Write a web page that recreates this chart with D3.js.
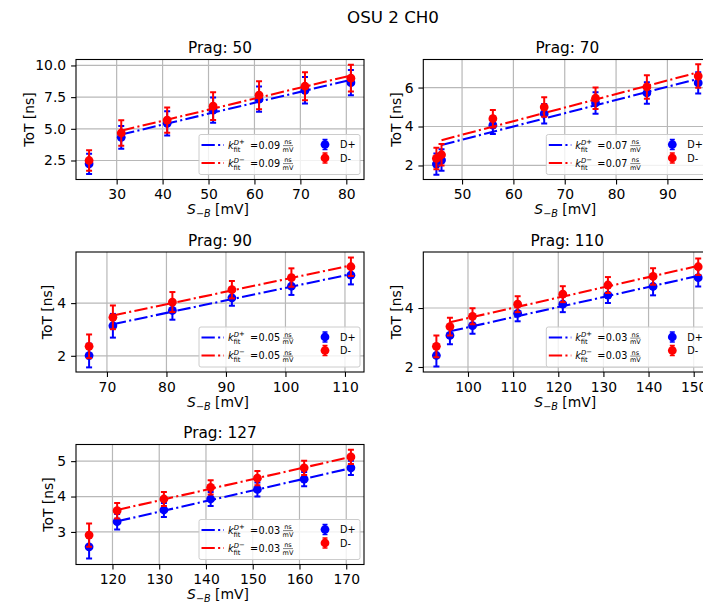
<!DOCTYPE html>
<html><head><meta charset="utf-8">
<script src="https://cdn.jsdelivr.net/npm/d3@7"></script>
<style>body{margin:0;background:#fff} svg{display:block} text{font-family:"DejaVu Sans",sans-serif}</style>
</head><body><svg id="c" width="703" height="605"></svg>
<script>
// ---------- data ----------
const suptitle = "OSU 2 CH0";
const titles = ["Prag: 50", "Prag: 70", "Prag: 90", "Prag: 110", "Prag: 127"];
const sbX = [
  [24, 31, 41, 51, 61, 71, 81],
  [45, 46, 56, 66, 76, 86, 96],
  [67, 71, 81, 91, 101, 111],
  [93, 96, 101, 111, 121, 131, 141, 151],
  [115, 121, 131, 141, 151, 161, 171]
];
const totDp = [
  [2.24, 4.33, 5.43, 6.47, 7.34, 8.04, 8.64],
  [2.07, 2.28, 4.07, 4.66, 5.21, 5.72, 6.24],
  [2.01, 3.14, 3.72, 4.20, 4.64, 5.06],
  [2.39, 3.07, 3.40, 3.82, 4.13, 4.44, 4.73, 5.03],
  [2.58, 3.29, 3.62, 3.93, 4.20, 4.49, 4.81]
];
const totDm = [
  [2.50, 4.67, 5.69, 6.79, 7.65, 8.36, 9.00],
  [2.36, 2.55, 4.40, 5.00, 5.45, 6.03, 6.59],
  [2.36, 3.46, 4.04, 4.51, 4.97, 5.38],
  [2.70, 3.37, 3.72, 4.13, 4.47, 4.78, 5.07, 5.40],
  [2.91, 3.60, 3.93, 4.26, 4.52, 4.81, 5.12]
];
const errDp = [
  [0.80, 0.90, 0.95, 1.00, 1.00, 1.05, 1.00],
  [0.55, 0.55, 0.45, 0.50, 0.55, 0.55, 0.55],
  [0.45, 0.45, 0.35, 0.30, 0.33, 0.35],
  [0.37, 0.30, 0.27, 0.27, 0.27, 0.27, 0.30, 0.30],
  [0.33, 0.22, 0.20, 0.20, 0.20, 0.20, 0.20]
];
const errDm = [
  [0.80, 1.00, 1.00, 1.10, 1.10, 1.10, 1.05],
  [0.55, 0.55, 0.45, 0.50, 0.55, 0.60, 0.60],
  [0.45, 0.45, 0.38, 0.33, 0.35, 0.35],
  [0.37, 0.30, 0.27, 0.27, 0.27, 0.27, 0.28, 0.28],
  [0.33, 0.22, 0.20, 0.20, 0.20, 0.20, 0.20]
];
const fitX  = [[31, 81], [46, 96], [71, 111], [96, 151], [121, 171]];
const fitDp = [[4.55, 8.87], [3.05, 6.45], [3.20, 5.10], [3.21, 5.09], [3.30, 4.80]];
const fitDm = [[4.85, 9.21], [3.30, 6.78], [3.53, 5.43], [3.52, 5.43], [3.62, 5.12]];
const kDp = ["0.09", "0.07", "0.05", "0.03", "0.03"];
const kDm = ["0.09", "0.07", "0.05", "0.03", "0.03"];
const xDomains = [[21.15, 83.85], [42.45, 98.55], [64.8, 113.2], [90.1, 153.9], [112.2, 173.8]];
const yDomains = [[1.0, 10.47], [1.28, 7.44], [1.385, 5.94], [1.83, 5.9], [2.08, 5.47]];
const xTicks = [[30, 40, 50, 60, 70, 80], [50, 60, 70, 80, 90], [70, 80, 90, 100, 110],
                [100, 110, 120, 130, 140, 150], [120, 130, 140, 150, 160, 170]];
const yTicks = [[2.5, 5.0, 7.5, 10.0], [2, 4, 6], [2, 4], [2, 4], [3, 4, 5]];
const yFormats = [".1f", "d", "d", "d", "d"];
const seriesNames = ["D+", "D-"];
const seriesSigns = ["+", "\u2212"];
const colors = ["#0000ff", "#ff0000"];

// ---------- layout ----------
const W = 288, H = 120;
const lefts = [76, 423.3, 76, 423.3, 76];
const tops = [59.5, 59.5, 252, 252, 444.5];
const ylabOff = [-42.5, -22, -24, -22, -23.5];
const dash = "13.3,3.3,2.1,3.3";
const FS = 13.9;

const svg = d3.select("#c");
svg.append("rect").attr("width", 703).attr("height", 605).attr("fill", "#fff");
svg.append("text").attr("x", 393).attr("y", 22.5).attr("text-anchor", "middle")
  .attr("font-size", 16.7).attr("fill", "#000").text(suptitle);

titles.forEach((title, i) => {
  const g = svg.append("g").attr("transform", `translate(${lefts[i]},${tops[i]})`);
  const x = d3.scaleLinear().domain(xDomains[i]).range([0, W]);
  const y = d3.scaleLinear().domain(yDomains[i]).range([H, 0]);

  // grid
  g.append("g").selectAll("line").data(xTicks[i]).join("line")
    .attr("x1", d => x(d)).attr("x2", d => x(d)).attr("y1", 0).attr("y2", H)
    .attr("stroke", "#b8b8b8").attr("stroke-width", 1.2);
  g.append("g").selectAll("line").data(yTicks[i]).join("line")
    .attr("y1", d => y(d)).attr("y2", d => y(d)).attr("x1", 0).attr("x2", W)
    .attr("stroke", "#b8b8b8").attr("stroke-width", 1.2);

  // axes
  const styleAxis = s => {
    s.select(".domain").remove();
    s.selectAll("line").attr("stroke", "#000").attr("stroke-width", 1.1);
    s.selectAll("text").attr("font-size", FS).attr("font-family", "DejaVu Sans").attr("fill", "#000");
  };
  g.append("g").attr("transform", `translate(0,${H})`)
    .call(d3.axisBottom(x).tickValues(xTicks[i]).tickSize(4.9).tickPadding(4.9).tickFormat(d3.format("d")))
    .call(styleAxis);
  g.append("g")
    .call(d3.axisLeft(y).tickValues(yTicks[i]).tickSize(4.9).tickPadding(4.9).tickFormat(d3.format(yFormats[i])))
    .call(styleAxis);

  // data
  const cid = "clip" + i;
  g.append("clipPath").attr("id", cid).append("rect").attr("width", W).attr("height", H);
  const plot = g.append("g").attr("clip-path", `url(#${cid})`);
  const vals = [totDp[i], totDm[i]], errs = [errDp[i], errDm[i]], fits = [fitDp[i], fitDm[i]];
  [0, 1].forEach(s => {
    const pts = sbX[i].map((xv, j) => ({x: xv, y: vals[s][j], e: errs[s][j]}));
    const sg = plot.append("g");
    sg.selectAll("line.eb").data(pts).join("line").attr("class", "eb")
      .attr("x1", d => x(d.x)).attr("x2", d => x(d.x))
      .attr("y1", d => y(d.y - d.e)).attr("y2", d => y(d.y + d.e))
      .attr("stroke", colors[s]).attr("stroke-width", 2);
    sg.selectAll("line.capt").data(pts).join("line").attr("class", "capt")
      .attr("x1", d => x(d.x) - 3).attr("x2", d => x(d.x) + 3)
      .attr("y1", d => y(d.y + d.e)).attr("y2", d => y(d.y + d.e))
      .attr("stroke", colors[s]).attr("stroke-width", 2);
    sg.selectAll("line.capb").data(pts).join("line").attr("class", "capb")
      .attr("x1", d => x(d.x) - 3).attr("x2", d => x(d.x) + 3)
      .attr("y1", d => y(d.y - d.e)).attr("y2", d => y(d.y - d.e))
      .attr("stroke", colors[s]).attr("stroke-width", 2);
    sg.selectAll("circle").data(pts).join("circle")
      .attr("cx", d => x(d.x)).attr("cy", d => y(d.y)).attr("r", 4.4).attr("fill", colors[s]);
    const fl = fitX[i].map((xv, j) => [xv, fits[s][j]]);
    sg.append("path").attr("d", d3.line().x(d => x(d[0])).y(d => y(d[1]))(fl))
      .attr("fill", "none").attr("stroke", colors[s]).attr("stroke-width", 2.08)
      .attr("stroke-dasharray", dash);
  });

  // frame
  g.append("rect").attr("width", W).attr("height", H).attr("fill", "none")
    .attr("stroke", "#000").attr("stroke-width", 1.1);

  // title
  g.append("text").attr("x", W / 2).attr("y", -6.5).attr("text-anchor", "middle")
    .attr("font-size", 15.3).attr("fill", "#000").text(title);

  // x label: S_{-B} [mV]
  const xl = g.append("text").attr("x", W / 2 - 2).attr("y", H + 34.5).attr("text-anchor", "middle")
    .attr("font-size", FS).attr("fill", "#000");
  xl.append("tspan").attr("font-style", "italic").text("S");
  xl.append("tspan").attr("dy", 3).attr("font-size", 9.7).text("\u2212");
  xl.append("tspan").attr("font-size", 9.7).attr("font-style", "italic").text("B");
  xl.append("tspan").attr("dy", -3).text(" [mV]");

  // y label
  g.append("text").attr("transform", `translate(${ylabOff[i]},${H / 2}) rotate(-90)`)
    .attr("text-anchor", "middle").attr("font-size", FS).attr("fill", "#000").text("ToT [ns]");

  // legend
  const LW = 161, LH = 40;
  const lx = W - 4 - LW, ly = H - 5 - LH;
  const lg = g.append("g").attr("transform", `translate(${lx},${ly})`);
  lg.append("rect").attr("width", LW).attr("height", LH).attr("rx", 2)
    .attr("fill", "#fff").attr("fill-opacity", 0.8).attr("stroke", "#cccccc").attr("stroke-width", 1);
  const ks = [kDp[i], kDm[i]];
  [0, 1].forEach(s => {
    const ry = s === 0 ? 10.5 : 28.5;
    lg.append("line").attr("x1", 2.5).attr("x2", 25).attr("y1", ry).attr("y2", ry)
      .attr("stroke", colors[s]).attr("stroke-width", 2.08).attr("stroke-dasharray", dash);
    const tx = 29;
    lg.append("text").attr("x", tx).attr("y", ry + 3.5).attr("font-size", 9.7)
      .attr("font-style", "italic").attr("fill", "#000").text("k");
    const sup = lg.append("text").attr("x", tx + 5.8).attr("y", ry - 0.5).attr("font-size", 6.8).attr("fill", "#000");
    sup.append("tspan").attr("font-style", "italic").text("D");
    sup.append("tspan").attr("dy", -1).text(seriesSigns[s]);
    lg.append("text").attr("x", tx + 5.5).attr("y", ry + 6.5).attr("font-size", 6.8)
      .attr("fill", "#000").text("fit");
    lg.append("text").attr("x", tx + 22).attr("y", ry + 3.5).attr("font-size", 9.7)
      .attr("fill", "#000").text("=");
    lg.append("text").attr("x", tx + 30.5).attr("y", ry + 3.5).attr("font-size", 9.7)
      .attr("fill", "#000").text(ks[s]);
    lg.append("text").attr("x", tx + 60).attr("y", ry - 0.8).attr("font-size", 6.5)
      .attr("text-anchor", "middle").attr("fill", "#000").text("ns");
    lg.append("line").attr("x1", tx + 55).attr("x2", tx + 65).attr("y1", ry + 0.6).attr("y2", ry + 0.6)
      .attr("stroke", "#000").attr("stroke-width", 0.5);
    lg.append("text").attr("x", tx + 60).attr("y", ry + 6.8).attr("font-size", 6.5)
      .attr("text-anchor", "middle").attr("fill", "#000").text("mV");

    // marker entry
    const my = s === 0 ? 10 : 23.5, mx = 126;
    lg.append("line").attr("x1", mx).attr("x2", mx).attr("y1", my - 5).attr("y2", my + 5)
      .attr("stroke", colors[s]).attr("stroke-width", 2);
    lg.append("line").attr("x1", mx - 2.5).attr("x2", mx + 2.5).attr("y1", my - 5).attr("y2", my - 5)
      .attr("stroke", colors[s]).attr("stroke-width", 1.5);
    lg.append("line").attr("x1", mx - 2.5).attr("x2", mx + 2.5).attr("y1", my + 5).attr("y2", my + 5)
      .attr("stroke", colors[s]).attr("stroke-width", 1.5);
    lg.append("circle").attr("cx", mx).attr("cy", my).attr("r", 4.4).attr("fill", colors[s]);
    lg.append("text").attr("x", 141).attr("y", my + 3.5).attr("font-size", 9.7)
      .attr("fill", "#000").text(seriesNames[s]);
  });
});
</script></body></html>
